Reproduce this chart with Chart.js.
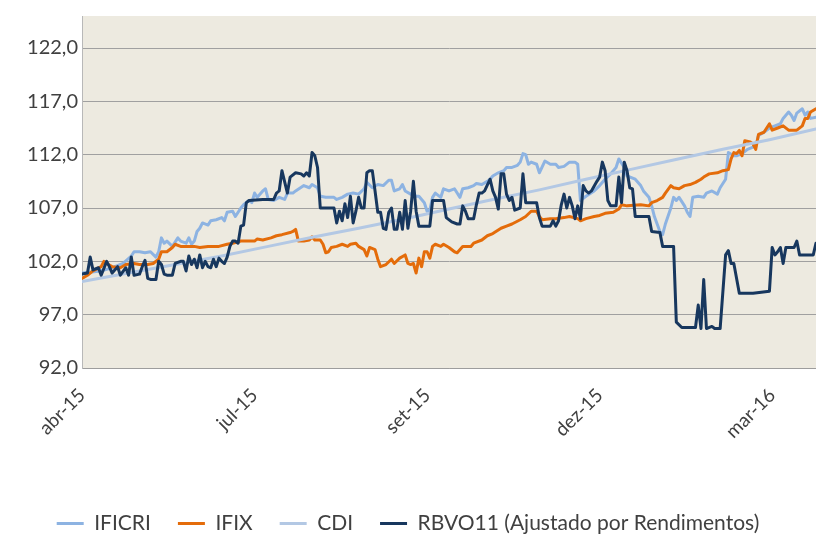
<!DOCTYPE html>
<html>
<head>
<meta charset="utf-8">
<script src="https://cdn.jsdelivr.net/npm/chart.js@4.4.1/dist/chart.umd.min.js"></script>
<style>
html, body { margin: 0; padding: 0; background: #fff; }
#caixa { width: 816px; height: 536px; position: relative; }
</style>
</head>
<body>
<div id="caixa"><canvas id="grafico"></canvas></div>
<script>
// dias uteis desde o inicio da serie e rotulo de cada marca do eixo
const diasRotulos = [0, 63, 126, 189, 252];
const rotulosX = ['abr-15', 'jul-15', 'set-15', 'dez-15', 'mar-16'];
const ticksY = [92, 97, 102, 107, 112, 117, 122];

const nomes = ['IFICRI', 'IFIX', 'CDI', 'RBVO11 (Ajustado por Rendimentos)'];

// [dia, valor]
const ificri = [[0,100.9],[7,101.1],[11,101.4],[15,101.8],[18,102.5],[19,102.9],[21,102.9],[23,102.8],[25,102.9],[27,102.4],[28,102.9],[29,104.2],[30,103.7],[31,103.9],[33,103.4],[35,104.2],[36,103.9],[38,103.7],[39,104.2],[40,103.6],[41,103.9],[42,104.8],[43,105.1],[44,105.6],[46,105.4],[47,105.8],[49,105.9],[51,106.1],[52,105.8],[53,106.6],[55,106.7],[56,106.2],[58,107.0],[59,107.3],[61,107.7],[62,107.5],[63,108.4],[64,108.0],[66,108.6],[67,108.8],[68,107.8],[70,107.7],[72,108.0],[74,107.8],[75,108.4],[77,108.4],[78,108.6],[81,109.1],[83,108.9],[84,109.2],[86,108.9],[87,108.1],[89,108.0],[92,108.0],[93,107.8],[95,108.0],[97,108.3],[99,108.4],[101,108.3],[103,108.8],[104,109.4],[106,108.9],[108,109.2],[110,109.1],[112,109.6],[113,109.6],[114,108.6],[116,108.8],[117,109.2],[118,108.6],[120,108.3],[122,108.1],[123,108.1],[125,107.5],[126,106.7],[127,106.8],[128,108.0],[129,108.4],[131,108.0],[132,108.8],[134,108.6],[136,108.8],[138,108.0],[139,108.8],[141,108.9],[143,109.1],[144,109.3],[146,109.2],[148,109.5],[149,109.7],[150,110.0],[152,110.3],[154,110.5],[155,110.8],[157,110.8],[159,111.0],[160,111.3],[161,112.1],[162,112.0],[163,111.1],[164,111.3],[166,111.1],[167,110.3],[169,111.4],[171,111.1],[173,111.1],[174,110.8],[176,110.9],[178,111.3],[180,111.3],[181,111.1],[182,107.7],[184,108.1],[187,108.6],[189,109.1],[191,109.7],[193,110.2],[195,110.8],[196,111.6],[198,110.8],[199,110.0],[202,109.7],[204,109.1],[205,108.6],[207,108.0],[208,107.2],[209,106.2],[210,105.5],[211,104.8],[212,104.5],[213,105.5],[215,107.0],[216,108.0],[217,107.7],[218,108.0],[220,107.2],[221,106.6],[222,106.2],[223,108.0],[225,108.1],[227,108.0],[228,108.4],[230,108.6],[232,108.3],[233,108.9],[235,109.7],[236,112.2],[238,111.9],[239,111.9],[241,112.1],[243,112.5],[245,112.7],[246,112.8],[247,113.8],[249,114.1],[251,114.5],[253,114.7],[255,114.9],[256,115.4],[258,116.0],[259,115.7],[260,115.2],[261,115.9],[263,116.3],[264,115.7],[265,116.0],[266,115.4],[268,115.5]];

const ifix = [[0,100.4],[2,100.7],[4,101.1],[7,101.5],[8,102.0],[9,101.8],[11,101.5],[14,101.4],[16,101.7],[19,101.8],[21,101.7],[24,101.7],[26,101.8],[28,102.2],[29,102.9],[31,102.9],[33,103.3],[34,103.6],[36,103.4],[38,103.4],[41,103.4],[43,103.3],[46,103.4],[48,103.4],[50,103.4],[53,103.6],[55,103.7],[58,103.9],[60,103.9],[63,103.9],[64,104.1],[66,104.0],[69,104.2],[71,104.4],[73,104.5],[76,104.7],[77,104.8],[78,105.0],[79,103.9],[81,103.9],[83,104.0],[84,104.3],[85,104.0],[87,104.0],[88,103.6],[89,102.8],[90,102.9],[91,103.3],[93,103.4],[95,103.6],[97,103.4],[98,103.6],[100,103.7],[101,103.4],[103,103.1],[104,102.5],[105,103.3],[107,103.1],[108,102.2],[109,101.5],[111,101.7],[113,102.2],[114,101.8],[116,102.3],[118,102.6],[119,101.8],[120,101.7],[121,101.8],[122,100.9],[123,102.3],[124,101.5],[125,102.9],[126,102.9],[127,102.3],[128,103.4],[129,103.6],[131,103.4],[132,103.6],[134,103.3],[136,102.9],[137,102.8],[139,103.4],[142,103.4],[143,103.7],[146,104.0],[148,104.4],[150,104.6],[153,105.1],[155,105.3],[157,105.5],[160,105.9],[162,106.2],[164,106.7],[166,106.7],[167,106.2],[168,105.9],[171,106.0],[173,106.0],[176,106.1],[178,106.2],[181,106.0],[182,105.8],[184,106.0],[187,106.2],[189,106.3],[191,106.5],[194,106.6],[196,106.9],[197,107.3],[199,107.2],[204,107.3],[207,107.2],[208,107.5],[210,107.7],[212,108.0],[213,108.4],[215,109.1],[216,108.9],[218,108.8],[220,109.1],[222,109.2],[224,109.4],[226,109.7],[227,109.9],[229,110.2],[232,110.3],[234,110.5],[236,110.6],[237,111.6],[238,112.2],[239,112.1],[240,112.4],[241,111.9],[242,113.3],[244,113.2],[245,113.0],[246,112.5],[247,113.9],[249,114.1],[251,114.9],[252,114.3],[254,114.5],[256,114.7],[258,114.3],[261,114.3],[263,114.7],[264,115.4],[265,115.4],[266,116.0],[268,116.3]];

const cdi = [[0,100.1],[17,100.9],[34,101.7],[51,102.5],[68,103.4],[85,104.3],[101,105.1],[118,106.0],[134,106.9],[150,107.8],[167,108.7],[184,109.7],[200,110.6],[216,111.5],[234,112.5],[251,113.4],[268,114.4]];

const rbvo11 = [[0,100.8],[2,100.9],[3,102.4],[4,101.2],[6,101.4],[7,100.7],[9,102.0],[10,101.5],[11,100.9],[13,101.5],[14,100.7],[16,101.4],[17,100.7],[18,102.4],[19,100.7],[21,100.8],[22,101.5],[23,102.1],[24,100.4],[25,100.3],[27,100.3],[28,102.0],[29,101.7],[30,100.8],[31,100.7],[33,100.7],[34,101.8],[36,102.0],[37,102.0],[38,101.1],[39,102.5],[40,101.7],[41,102.2],[42,101.4],[43,102.6],[44,101.4],[45,102.0],[46,101.5],[47,101.4],[48,102.2],[49,101.5],[50,102.3],[51,102.0],[52,101.8],[53,102.4],[54,103.4],[55,103.9],[56,103.9],[57,103.7],[58,105.3],[59,105.4],[60,107.5],[61,107.7],[66,107.8],[70,107.8],[71,108.4],[72,108.6],[73,110.5],[75,108.4],[76,109.9],[78,110.3],[80,110.2],[81,110.0],[82,110.3],[83,110.0],[84,112.2],[85,111.9],[86,110.8],[87,107.0],[92,107.0],[93,105.6],[94,106.7],[95,105.8],[96,107.4],[97,106.1],[98,108.1],[99,105.6],[100,106.7],[101,108.0],[102,107.0],[103,107.0],[104,110.3],[105,110.5],[106,110.5],[107,108.6],[108,106.6],[109,106.6],[110,105.1],[111,105.0],[112,106.6],[113,107.0],[114,105.0],[115,105.0],[116,106.6],[117,105.0],[118,107.7],[119,105.1],[120,106.7],[121,109.5],[122,106.7],[123,105.3],[127,105.3],[128,107.7],[132,107.7],[133,106.1],[135,105.7],[137,105.5],[138,105.5],[139,107.2],[140,106.7],[141,106.0],[143,106.0],[144,107.3],[145,108.4],[146,108.4],[147,108.6],[149,109.7],[150,108.6],[151,108.0],[152,106.9],[153,110.2],[154,110.2],[155,108.3],[156,107.7],[157,108.0],[158,106.8],[160,107.0],[161,110.2],[162,107.5],[166,107.5],[167,106.1],[168,105.3],[171,105.3],[172,105.8],[173,105.3],[174,105.8],[175,107.3],[176,108.3],[177,107.0],[178,108.0],[179,107.2],[180,106.0],[181,107.2],[182,106.0],[183,109.1],[184,108.6],[185,108.4],[186,108.6],[188,109.5],[189,109.9],[190,111.3],[191,110.5],[192,107.7],[193,107.2],[195,107.2],[196,109.9],[197,107.5],[198,111.3],[199,110.5],[200,108.9],[201,108.8],[202,106.2],[207,106.2],[208,104.8],[211,104.7],[212,103.4],[216,103.4],[217,96.3],[219,95.8],[224,95.8],[225,97.9],[226,95.7],[227,100.3],[228,95.7],[230,95.9],[231,95.7],[233,95.7],[235,102.6],[236,103.0],[237,101.8],[238,101.8],[240,99.0],[245,99.0],[251,99.2],[252,103.3],[253,102.6],[254,102.9],[255,103.3],[256,101.8],[257,103.3],[260,103.3],[261,103.9],[262,102.6],[267,102.6],[268,103.7]];

const cores = ['#8DB3E2', '#E46C0A', '#B3C8E4', '#17375E'];
const series = [ificri, ifix, cdi, rbvo11];

const fundoArea = {
    id: 'fundoArea',
    beforeDraw(chart) {
        const a = chart.chartArea;
        const ctx = chart.ctx;
        ctx.save();
        ctx.fillStyle = '#EDEAE0';
        ctx.fillRect(a.left, a.top, a.right - a.left, a.bottom - a.top);
        ctx.restore();
    }
};

const fonte = 'Lato, "Noto Sans", sans-serif';

new Chart(document.getElementById('grafico'), {
    type: 'line',
    data: {
        datasets: series.map((s, i) => ({
            label: nomes[i],
            data: s.map(p => ({ x: p[0], y: p[1] })),
            borderColor: cores[i],
            backgroundColor: cores[i],
            borderWidth: 3,
            pointRadius: 0,
            tension: 0,
            borderJoinStyle: 'round',
            borderCapStyle: 'round',
            order: 4 - i
        }))
    },
    options: {
        responsive: true,
        maintainAspectRatio: false,
        animation: false,
        layout: { padding: { left: 0, right: 0, top: 15, bottom: -8 } },
        plugins: {
            tooltip: { enabled: false },
            legend: {
                position: 'bottom',
                labels: {
                    font: { family: fonte, size: 21 },
                    color: '#404040',
                    boxWidth: 27,
                    boxHeight: 3,
                    padding: 27,
                    sort: (a, b) => a.datasetIndex - b.datasetIndex,
                    generateLabels: chart => Chart.defaults.plugins.legend.labels.generateLabels(chart)
                        .map(it => Object.assign(it, { lineWidth: 0 }))
                }
            }
        },
        scales: {
            x: {
                type: 'linear',
                min: 0,
                max: 268,
                grid: { display: false, drawTicks: false },
                border: { display: true, color: '#9D9D9D', width: 1 },
                afterBuildTicks: s => { s.ticks = diasRotulos.map(v => ({ value: v })); },
                afterFit: s => { s.height = 118; },
                ticks: {
                    minRotation: 45,
                    maxRotation: 45,
                    padding: 16,
                    color: '#404040',
                    font: { family: fonte, size: 19 },
                    callback: v => {
                        const i = diasRotulos.indexOf(v);
                        return i >= 0 ? rotulosX[i] : '';
                    }
                }
            },
            y: {
                min: 92,
                max: 125,
                grid: { color: '#A0A0A0', lineWidth: 1, drawTicks: false },
                border: { display: true, color: '#B8B8B8', width: 1 },
                afterBuildTicks: s => { s.ticks = ticksY.map(v => ({ value: v })); },
                afterFit: s => { s.width = 82; },
                ticks: {
                    padding: 4,
                    color: '#404040',
                    font: { family: fonte, size: 20 },
                    callback: v => v.toFixed(1).replace('.', ',')
                }
            }
        }
    },
    plugins: [fundoArea]
});
</script>
</body>
</html>
